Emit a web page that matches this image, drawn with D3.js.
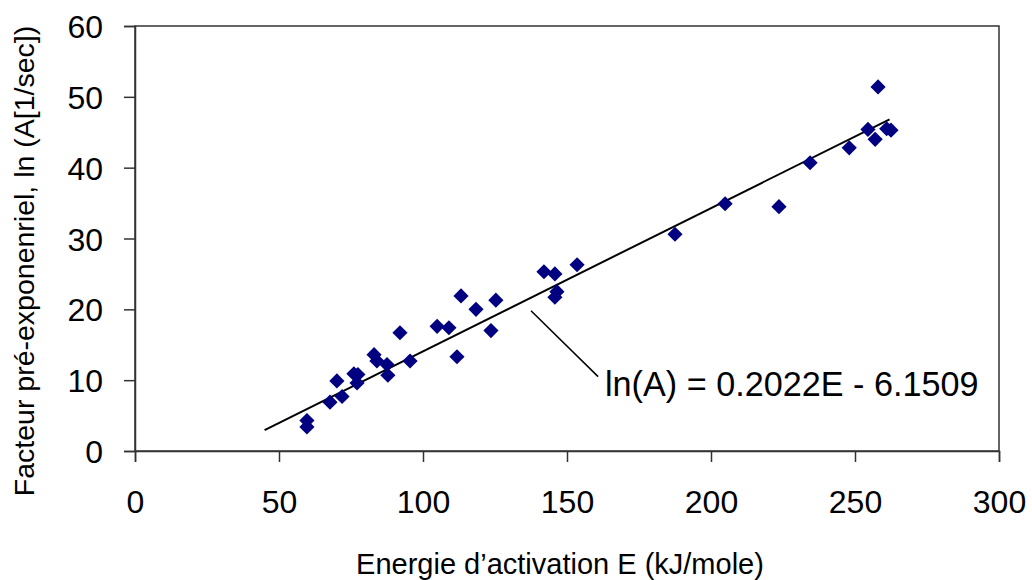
<!DOCTYPE html>
<html><head><meta charset="utf-8">
<script src="https://cdn.jsdelivr.net/npm/d3@7"></script>
<style>body{margin:0;background:#fff;}svg{display:block;font-family:"Liberation Sans",Arial,sans-serif;}</style>
</head><body>
<svg id="c" width="1032" height="580"></svg>
<script>
const energy = [59.7,59.7,67.7,70.1,71.9,76.0,77.1,77.4,83.0,84.0,87.5,87.8,92.0,95.5,104.9,109.0,111.8,113.2,118.4,123.6,125.3,142.0,145.8,146.5,145.8,153.5,187.5,204.9,223.6,234.4,248.0,254.5,258.0,257.0,261.0,262.5];
const lnA    = [4.3,3.4,6.9,9.9,7.7,10.9,9.6,10.8,13.6,12.7,12.2,10.7,16.7,12.7,17.6,17.4,13.3,21.9,20.0,17.0,21.3,25.3,25.0,22.5,21.7,26.3,30.6,34.9,34.5,40.7,42.8,45.4,51.4,44.0,45.5,45.3];
const xTicks = [0,50,100,150,200,250,300];
const yTicks = [0,10,20,30,40,50,60];
const slope = 0.2022, intercept = -6.1509;
const trendRange = [45, 262];
const eqLabel = "ln(A) = 0.2022E - 6.1509";
const xTitle = "Energie d\u2019activation E (kJ/mole)";
const yTitle = "Facteur pré-exponenriel, ln (A[1/sec])";

const svg = d3.select("#c");
const L=135,R=999,T=26,B=451;
const x = d3.scaleLinear().domain([0,300]).range([L,R]);
const y = d3.scaleLinear().domain([0,60]).range([B,T]);
const axisColor="#333";
const FONT="'Liberation Sans',Arial,sans-serif";

// frame
svg.append("rect").attr("x",L).attr("y",T).attr("width",R-L).attr("height",B-T)
  .attr("fill","none").attr("stroke",axisColor).attr("stroke-width",1.5);

const gx = svg.append("g").attr("transform",`translate(0,${B})`)
  .call(d3.axisBottom(x).tickValues(xTicks).tickSize(11).tickPadding(28).tickFormat(d3.format("d")));
const gy = svg.append("g").attr("transform",`translate(${L},0)`)
  .call(d3.axisLeft(y).tickValues(yTicks).tickSize(11).tickPadding(21).tickFormat(d3.format("d")));
[gx,gy].forEach(g=>{
  g.select(".domain").attr("stroke",axisColor).attr("stroke-width",1.5);
  g.selectAll(".tick line").attr("stroke",axisColor).attr("stroke-width",1.5);
  g.selectAll("text").attr("font-size",32).attr("fill","#000").attr("font-family",FONT);
});
gy.selectAll("text").attr("dy","0.36em");

// trend line
svg.append("line")
  .attr("x1",x(trendRange[0])).attr("y1",y(slope*trendRange[0]+intercept))
  .attr("x2",x(trendRange[1])).attr("y2",y(slope*trendRange[1]+intercept))
  .attr("stroke","#000").attr("stroke-width",2);

// points
const sym = d3.symbol().type(d3.symbolSquare).size(115);
svg.append("g").selectAll("path").data(energy).join("path")
  .attr("d",sym)
  .attr("transform",(d,i)=>`translate(${x(d)},${y(lnA[i])}) rotate(45)`)
  .attr("fill","#000080");

// annotation
svg.append("line").attr("x1",x(137.5)).attr("y1",y(19.8)).attr("x2",x(160.8)).attr("y2",y(10.5))
  .attr("stroke","#000").attr("stroke-width",1.5);
svg.append("text").attr("x",605).attr("y",396).attr("font-size",34.2).attr("fill","#000").attr("font-family",FONT).text(eqLabel);

// titles
svg.append("text").attr("x",560).attr("y",574).attr("text-anchor","middle").attr("font-size",29).attr("fill","#000").attr("font-family",FONT).text(xTitle);
svg.append("text").attr("transform","translate(34,261) rotate(-90)").attr("text-anchor","middle").attr("font-size",28.5).attr("fill","#000").attr("font-family",FONT).text(yTitle);
</script>
</body></html>
